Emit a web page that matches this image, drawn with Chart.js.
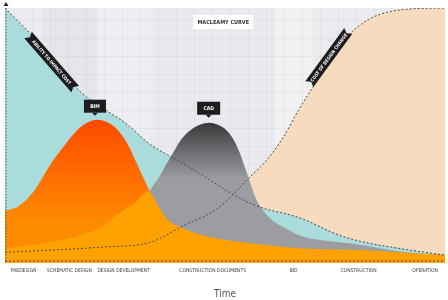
<!DOCTYPE html>
<html>
<head>
<meta charset="utf-8">
<script src="https://cdn.jsdelivr.net/npm/chart.js@4.4.0/dist/chart.umd.min.js"></script>
<style>
  html, body { margin: 0; padding: 0; background: #fff; }
  #wrap { width: 448px; height: 300px; }
</style>
</head>
<body>
<div id="wrap"><canvas id="myChart" width="448" height="300"></canvas></div>
<script>
// project phases along the time axis (0..100)
const phaseNames = ['PREDESIGN', 'SCHEMATIC DESIGN', 'DESIGN DEVELOPMENT', 'CONSTRUCTION DOCUMENTS', 'BID', 'CONSTRUCTION', 'OPERATION'];
const phaseEdges = [0, 8.4, 20.9, 33, 61.4, 69.8, 90.9, 100];

// 1 - ability to impact cost
const impactX = [0, 5.7, 11.4, 15.5, 18.6, 23.2, 27.3, 33, 39.1, 45.5, 51.8, 57.3, 67, 76.1, 81.8, 89.3, 100];
const impactY = [100, 90, 79.2, 70, 65, 59.6, 55, 46.5, 40.4, 33.8, 26.9, 22.3, 17.7, 10.8, 8.1, 5.8, 3.1];

// 2 - cost of design change
const changeX = [0, 10.2, 21.6, 33, 40.5, 48.2, 51.8, 55.7, 59.5, 63.2, 66.6, 70.5, 73.9, 78, 81.8, 85.5, 92, 100];
const changeY = [4.2, 5, 6.2, 8.1, 14.6, 21.2, 26.9, 33.8, 40.4, 49.2, 59.6, 70.4, 79.2, 89.2, 94.6, 97.7, 99.6, 100];

// 3 - BIM design effort
const bimX = [0, 2.7, 5.2, 7, 8.9, 10.7, 13.2, 15.7, 18.2, 20.9, 23.9, 26.1, 28, 29.8, 31.4, 33, 35.2, 38.6, 44.3, 55.7, 100];
const bimY = [20.4, 21.9, 25.4, 29.2, 34.6, 39.6, 45.4, 50.8, 54.6, 56.2, 54.6, 51.2, 46.2, 39.6, 33.5, 27.7, 20.8, 13.8, 7.7, 3.8, 2.3];

// 4 - CAD design effort
const cadX = [21.6, 28.4, 30.7, 33, 34.8, 36.6, 38.4, 40.2, 42.3, 44.3, 46.4, 48.4, 50.2, 51.8, 53.2, 54.3, 55.5, 56.8, 58.4, 60.7, 63.6, 67, 76.1, 81.8, 89.3, 100];
const cadY = [2.3, 10, 18.5, 28.5, 33.1, 38.5, 43.8, 48.8, 52.3, 54.2, 55, 54.2, 52.3, 48.8, 43.8, 38.5, 32.7, 26.2, 21.2, 16.9, 13.8, 10.8, 8.1, 6.9, 4.6, 3.1];

// 5 - traditional process
const tradX = [0, 10.2, 17, 21.6, 26.1, 29.5, 32.5, 35.2, 36.8, 40.5, 44.3, 48.2, 55.7, 67, 81.8, 89.3, 100];
const tradY = [5.8, 8.1, 10.8, 13.8, 19.6, 23.5, 28.1, 21.2, 17.3, 13.5, 11.2, 9.6, 7.7, 5.8, 5, 4.2, 3.1];

const baselineX = [0, 100];
const baselineY = [0.8, 0.8];

const pts = (xs, ys) => xs.map((x, i) => ({ x: x, y: ys[i] }));

function valueAt(xs, ys, x) {
    for (let i = 1; i < xs.length; i++) {
        if (x <= xs[i]) {
            const t = (x - xs[i - 1]) / (xs[i] - xs[i - 1]);
            return ys[i - 1] + t * (ys[i] - ys[i - 1]);
        }
    }
    return ys[ys.length - 1];
}

function vGradient(ctx, top, bottom, c1, c2) {
    const chart = ctx.chart;
    if (!chart.chartArea) return c2;
    const y = chart.scales.y;
    const g = chart.ctx.createLinearGradient(0, y.getPixelForValue(top), 0, y.getPixelForValue(bottom));
    g.addColorStop(0, c1);
    g.addColorStop(1, c2);
    return g;
}

function ribbon(c, cx, cy, angle, len, text) {
    const h = 10, n = 3;
    c.save();
    c.translate(cx, cy);
    c.rotate(angle);
    c.beginPath();
    c.moveTo(-len / 2, -h / 2);
    c.lineTo(len / 2, -h / 2);
    c.lineTo(len / 2 - n, 0);
    c.lineTo(len / 2, h / 2);
    c.lineTo(-len / 2, h / 2);
    c.lineTo(-len / 2 + n, 0);
    c.closePath();
    c.fillStyle = '#1d1d1f';
    c.fill();
    c.fillStyle = '#fff';
    c.font = 'bold 4.5px "DejaVu Sans Condensed"';
    c.textAlign = 'center';
    c.textBaseline = 'middle';
    c.fillText(text, 0, 0.5);
    c.restore();
}

function callout(c, cx, tipY, w, h, text) {
    c.save();
    c.fillStyle = '#1d1d1f';
    c.fillRect(cx - w / 2, tipY - 3 - h, w, h);
    c.beginPath();
    c.moveTo(cx - 3, tipY - 3);
    c.lineTo(cx + 3, tipY - 3);
    c.lineTo(cx, tipY);
    c.closePath();
    c.fill();
    c.fillStyle = '#fff';
    c.font = 'bold 5px "DejaVu Sans Condensed"';
    c.textAlign = 'center';
    c.textBaseline = 'middle';
    c.fillText(text, cx, tipY - 3 - h / 2 + 0.5);
    c.restore();
}

const bandColors = ['#ececf0', '#e5e5ea', '#eeeef2', '#e9e9ee', '#f1f1f4', '#ececf0', '#f2f2f5'];

const decor = {
    id: 'decor',
    beforeDraw(chart) {
        const c = chart.ctx, a = chart.chartArea, x = chart.scales.x;
        c.save();
        c.fillStyle = '#fff';
        c.fillRect(0, 0, chart.width, chart.height);
        for (let i = 0; i < phaseEdges.length - 1; i++) {
            const x0 = x.getPixelForValue(phaseEdges[i]);
            const x1 = x.getPixelForValue(phaseEdges[i + 1]);
            c.fillStyle = bandColors[i];
            c.fillRect(x0, a.top, x1 - x0, a.bottom - a.top);
        }
        // faint paper grid
        c.strokeStyle = 'rgba(0,0,0,0.035)';
        c.lineWidth = 1;
        for (let gx = a.left + 9; gx < a.right; gx += 18) {
            c.beginPath(); c.moveTo(Math.round(gx) + 0.5, a.top); c.lineTo(Math.round(gx) + 0.5, a.bottom); c.stroke();
        }
        for (let gy = a.bottom - 9; gy > a.top; gy -= 18) {
            c.beginPath(); c.moveTo(a.left, Math.round(gy) + 0.5); c.lineTo(a.right, Math.round(gy) + 0.5); c.stroke();
        }
        c.restore();
    },
    afterDatasetsDraw(chart) {
        const c = chart.ctx, a = chart.chartArea, x = chart.scales.x, y = chart.scales.y;
        c.save();
        // dashed value axis with arrow
        const ax = x.getPixelForValue(0) + 1;
        c.strokeStyle = '#555';
        c.lineWidth = 1;
        c.setLineDash([1.5, 1.5]);
        c.beginPath(); c.moveTo(ax, a.top); c.lineTo(ax, a.bottom); c.stroke();
        c.setLineDash([]);
        c.fillStyle = '#222';
        c.beginPath(); c.moveTo(ax - 2.5, a.top - 2); c.lineTo(ax + 2.5, a.top - 2); c.lineTo(ax, a.top - 6); c.closePath(); c.fill();

        // title box
        const tx = x.getPixelForValue(49.6);
        c.fillStyle = '#fff';
        c.fillRect(tx - 30, a.top + 7, 60, 14);
        c.fillStyle = '#333';
        c.font = 'bold 5.5px "DejaVu Sans Condensed"';
        c.textAlign = 'center';
        c.textBaseline = 'middle';
        c.fillText('MACLEAMY CURVE', tx, a.top + 14.5);
        c.restore();

        // peak callouts
        const bi = bimY.indexOf(Math.max(...bimY));
        callout(c, x.getPixelForValue(bimX[bi]) - 2, y.getPixelForValue(bimY[bi]) - 4, 22, 13, 'BIM');
        const ci = cadY.indexOf(Math.max(...cadY));
        callout(c, x.getPixelForValue(cadX[ci]) - 0.5, y.getPixelForValue(cadY[ci]) - 5, 23, 13, 'CAD');

        // ribbons along the two curves
        ribbon(c, x.getPixelForValue(10.6), y.getPixelForValue(valueAt(impactX, impactY, 10.6)) + 5, 0.855, 72, 'ABILITY TO IMPACT COST');
        ribbon(c, x.getPixelForValue(73.6), y.getPixelForValue(valueAt(changeX, changeY, 73.6)) - 5.5, -0.94, 66, 'COST OF DESIGN CHANGE');
    }
};

const dashed = { borderColor: '#4a4a4a', borderWidth: 1, borderDash: [2, 2], fill: false, pointRadius: 0 };
const area = { borderWidth: 0, pointRadius: 0, fill: 'origin', cubicInterpolationMode: 'monotone' };

new Chart(document.getElementById('myChart'), {
    type: 'line',
    data: {
        datasets: [
            Object.assign({ label: 'Ability to impact cost', data: pts(impactX, impactY), order: 0, cubicInterpolationMode: 'monotone' }, dashed),
            Object.assign({ label: 'Cost of design change', data: pts(changeX, changeY), order: 0, cubicInterpolationMode: 'monotone' }, dashed),
            Object.assign({ label: 'Baseline', data: pts(baselineX, baselineY), order: 0 }, dashed),
            Object.assign({ label: 'Traditional', data: pts(tradX, tradY), order: 1, backgroundColor: '#ffa200' }, area),
            Object.assign({ label: 'CAD', data: pts(cadX, cadY), order: 2,
                backgroundColor: (ctx) => vGradient(ctx, 55, 33, '#3a3a3c', '#9b9da1') }, area),
            Object.assign({ label: 'BIM', data: pts(bimX, bimY), order: 3,
                backgroundColor: (ctx) => vGradient(ctx, 56, 15, '#ff4a00', '#ff8c00') }, area),
            Object.assign({ label: 'Impact area', data: pts(impactX, impactY), order: 4, backgroundColor: '#a9dcdb' }, area),
            Object.assign({ label: 'Change area', data: pts(changeX, changeY), order: 5, backgroundColor: '#f6dbbf' }, area)
        ]
    },
    options: {
        responsive: false,
        devicePixelRatio: 1,
        animation: false,
        layout: { padding: { top: 8, left: 5, right: 3, bottom: 0 } },
        plugins: { legend: { display: false }, tooltip: { enabled: false } },
        scales: {
            x: {
                type: 'linear', min: 0, max: 100,
                grid: { display: false, drawTicks: false },
                border: { display: false },
                afterBuildTicks: (axis) => {
                    axis.ticks = phaseNames.map((n, i) => ({ value: (phaseEdges[i] + phaseEdges[i + 1]) / 2 }));
                },
                ticks: {
                    autoSkip: false, maxRotation: 0, padding: 5, color: '#3a3a3a',
                    font: { family: '"DejaVu Sans Condensed"', size: 5 },
                    callback: (v, i) => phaseNames[i]
                },
                title: {
                    display: true, text: 'Time', color: '#555',
                    font: { family: '"Liberation Sans Narrow", "DejaVu Sans Condensed"', size: 10 },
                    padding: { top: 9, bottom: 0 }
                }
            },
            y: { display: false, min: 0, max: 100 }
        }
    },
    plugins: [decor]
});
</script>
</body>
</html>
